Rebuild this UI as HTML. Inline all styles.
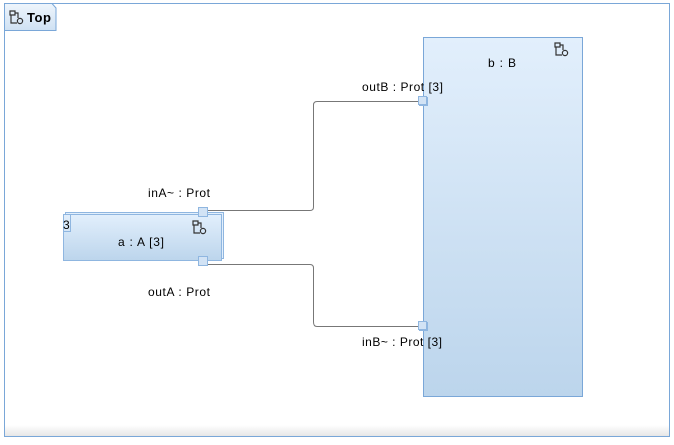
<!DOCTYPE html>
<html><head><style>
body{margin:0;width:674px;height:440px;background:#fff;font-family:"Liberation Sans",sans-serif;overflow:hidden}
</style></head><body>
<svg width="674" height="440" xmlns="http://www.w3.org/2000/svg" font-family="Liberation Sans, sans-serif" font-size="12">
<defs>
<linearGradient id="g" x1="0" y1="0" x2="0" y2="1"><stop offset="0" stop-color="#e2effc"/><stop offset="1" stop-color="#bcd5ec"/></linearGradient>
<linearGradient id="t" x1="0" y1="0" x2="0" y2="1"><stop offset="0" stop-color="#eef5fc"/><stop offset="1" stop-color="#cfe1f3"/></linearGradient>
<linearGradient id="bt" x1="0" y1="0" x2="0" y2="1"><stop offset="0" stop-color="#fff"/><stop offset="1" stop-color="#e6e6e6"/></linearGradient>
<g id="ic" fill="none" stroke="#333" stroke-width="1.2"><path d="M0 0 h5 v4 h-5z M1 4 v8 h6"/><circle cx="10" cy="10" r="2.6"/><path d="M5 2 h3 v5"/></g>
</defs>
<rect x="4.5" y="3.5" width="665" height="433" fill="#fff" stroke="#7aa7d8"/>
<rect x="5" y="425" width="664" height="11" fill="url(#bt)"/>
<path d="M4.5 3.5 H52 L56 8 V30.5 H4.5Z" fill="url(#t)" stroke="#7aa7d8"/>
<use href="#ic" x="10" y="11"/>
<text x="27" y="22" font-weight="bold" font-size="13" textLength="24">Top</text>
<g fill="none" stroke="#777"><path d="M208 210.5 H310 Q313.5 210.5 313.5 207 V105 Q313.5 101.5 317 101.5 H418"/><path d="M208 264.5 H310 Q313.5 264.5 313.5 268 V322 Q313.5 326.5 317 326.5 H418"/></g>
<rect x="423.5" y="37.5" width="159" height="359" fill="url(#g)" stroke="#7aa7d8"/>
<use href="#ic" x="555" y="43"/>
<text x="502" y="67" text-anchor="middle" textLength="28">b : B</text>
<rect x="65.5" y="212.5" width="158" height="46" fill="#e2effc" stroke="#8fb6e0"/>
<rect x="63.5" y="214.5" width="158" height="46" fill="url(#g)" stroke="#8fb6e0"/>
<rect x="63.5" y="214.5" width="7" height="17" fill="none" stroke="#8fb6e0"/>
<text x="63" y="229" font-size="12">3</text>
<use href="#ic" x="193" y="221"/>
<text x="141" y="246" text-anchor="middle" textLength="46">a : A [3]</text>
<g fill="#d2e3f5" stroke="#8fb6e0"><rect x="198.5" y="207.5" width="9" height="9"/><rect x="198.5" y="256.5" width="9" height="9"/><rect x="419.5" y="97.5" width="8" height="8"/><rect x="418.5" y="96.5" width="8" height="8"/><rect x="419.5" y="322.5" width="8" height="8"/><rect x="418.5" y="321.5" width="8" height="8"/></g>
<text x="148" y="197" textLength="62">inA~ : Prot</text>
<text x="148" y="296" textLength="62">outA : Prot</text>
<text x="362" y="91" textLength="81">outB : Prot [3]</text>
<text x="362" y="346" textLength="80">inB~ : Prot [3]</text>
</svg>
</body></html>
